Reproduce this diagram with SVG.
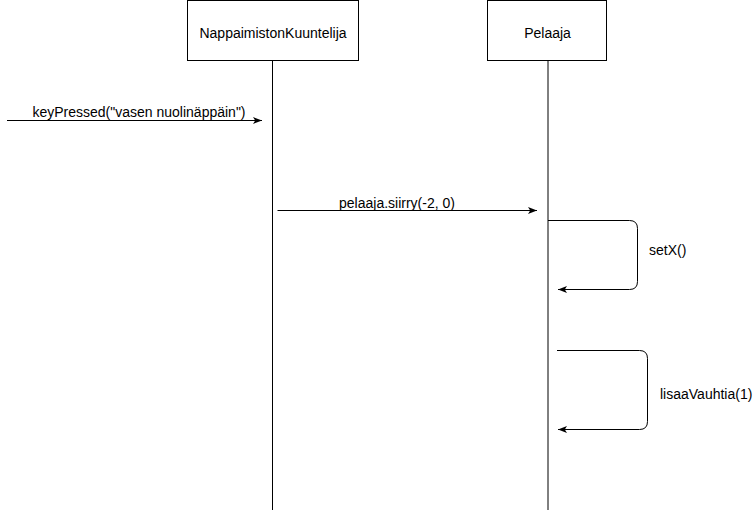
<svg xmlns="http://www.w3.org/2000/svg" width="756" height="512" viewBox="0 0 756 512">
<style>
.box{fill:#fff;stroke:#000;stroke-width:1}
.life{stroke:#000;stroke-width:1;fill:none}
.msg{stroke:#000;stroke-width:1;fill:none}
text{font-family:"Liberation Sans",Arial,sans-serif;font-size:14px;fill:#000}
</style>
<defs>
<marker id="ah" markerWidth="10" markerHeight="8" refX="9" refY="4" orient="auto" markerUnits="userSpaceOnUse">
<path d="M0,0.5 L9,4 L0,7.5 L2.2,4 Z" fill="#000"/>
</marker>
</defs>
<rect width="756" height="512" fill="#fff"/>
<g id="nappaimistonkuuntelija">
<rect class="box" x="187.5" y="0.5" width="171" height="60"/>
<line class="life" x1="272.5" y1="60.5" x2="272.5" y2="510"/>
<text x="273" y="38" text-anchor="middle">NappaimistonKuuntelija</text>
</g>
<g id="pelaaja">
<rect class="box" x="487.5" y="0.5" width="119" height="60"/>
<line class="life" x1="548" y1="60.5" x2="548" y2="510"/>
<text x="547.5" y="38" text-anchor="middle">Pelaaja</text>
</g>
<g id="connectors">
<path class="msg" d="M7,120.5 L262,120.5" marker-end="url(#ah)"/>
<text x="139" y="117" text-anchor="middle">keyPressed("vasen nuolinäppäin")</text>
<path class="msg" d="M277.5,210.5 L537,210.5" marker-end="url(#ah)"/>
<text x="397" y="207.5" text-anchor="middle">pelaaja.siirry(-2, 0)</text>
<path class="msg" d="M548,220.5 L629.5,220.5 Q637.5,220.5 637.5,228.5 L637.5,281.5 Q637.5,289.5 629.5,289.5 L558,289.5" marker-end="url(#ah)"/>
<text x="649" y="255">setX()</text>
<path class="msg" d="M557,350.5 L639.5,350.5 Q647.5,350.5 647.5,358.5 L647.5,421.5 Q647.5,429.5 639.5,429.5 L558,429.5" marker-end="url(#ah)"/>
<text x="660" y="399">lisaaVauhtia(1)</text>
</g>
</svg>
